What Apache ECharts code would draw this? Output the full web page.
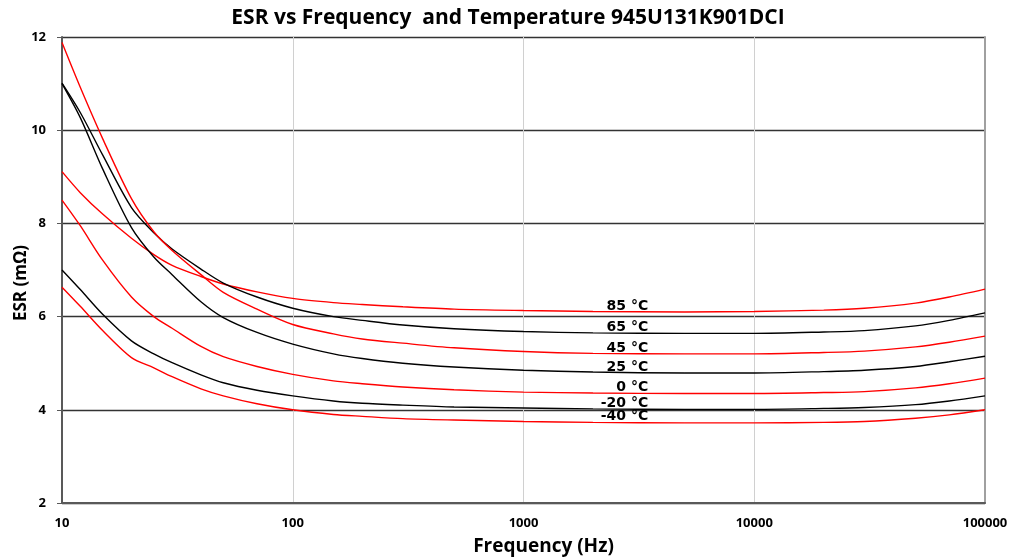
<!DOCTYPE html>
<html>
<head>
<meta charset="utf-8">
<script src="https://cdn.jsdelivr.net/npm/echarts@6/dist/echarts.min.js"></script>
<style>
  html, body { margin: 0; padding: 0; background: #fff; }
  #chart { width: 1016px; height: 559px; }
</style>
</head>
<body>
<div id="chart"></div>
<script>
// frequencies (Hz) the curves were read at
var freq = [10, 12, 15, 20, 25, 30, 40, 50, 70, 100, 150, 200, 300, 500, 1000, 2000, 5000, 10000, 20000, 30000, 50000, 70000, 100000];

// ESR (mOhm) per temperature
var esr85  = [9.11, 8.66, 8.20, 7.68, 7.33, 7.10, 6.86, 6.70, 6.53, 6.39, 6.30, 6.26, 6.21, 6.16, 6.13, 6.11, 6.10, 6.11, 6.14, 6.18, 6.29, 6.42, 6.59];
var esr65  = [11.01, 10.38, 9.47, 8.34, 7.80, 7.45, 7.02, 6.72, 6.42, 6.18, 6.00, 5.92, 5.82, 5.74, 5.68, 5.65, 5.64, 5.64, 5.67, 5.70, 5.80, 5.92, 6.08];
var esr45  = [11.88, 10.92, 9.82, 8.53, 7.82, 7.42, 6.90, 6.52, 6.16, 5.83, 5.63, 5.52, 5.43, 5.33, 5.25, 5.21, 5.20, 5.20, 5.23, 5.26, 5.35, 5.45, 5.58];
var esr25  = [11.00, 10.27, 9.17, 7.91, 7.28, 6.90, 6.32, 5.98, 5.66, 5.41, 5.20, 5.10, 5.00, 4.92, 4.85, 4.81, 4.79, 4.79, 4.82, 4.85, 4.93, 5.03, 5.15];
var esr0   = [8.50, 7.95, 7.21, 6.42, 6.00, 5.75, 5.36, 5.14, 4.93, 4.76, 4.62, 4.56, 4.49, 4.43, 4.38, 4.36, 4.35, 4.35, 4.37, 4.39, 4.47, 4.56, 4.68];
var esrM20 = [7.00, 6.58, 6.05, 5.48, 5.20, 5.01, 4.75, 4.58, 4.42, 4.30, 4.19, 4.14, 4.10, 4.06, 4.04, 4.02, 4.01, 4.01, 4.03, 4.05, 4.11, 4.19, 4.30];
var esrM40 = [6.63, 6.22, 5.70, 5.12, 4.90, 4.71, 4.45, 4.30, 4.13, 4.00, 3.90, 3.86, 3.81, 3.78, 3.75, 3.73, 3.72, 3.72, 3.73, 3.75, 3.82, 3.89, 4.00];

var tempLabels = ['85 °C', '65 °C', '45 °C', '25 °C', '0 °C', '-20 °C', '-40 °C'];
var curveColors = ['#ff0000', '#000000', '#ff0000', '#000000', '#ff0000', '#000000', '#ff0000'];
var curves = [esr85, esr65, esr45, esr25, esr0, esrM20, esrM40];

var labelFreq = 3470;
var labelIdx = freq.indexOf(5000);

var series = curves.map(function (vals, i) {
  return {
    name: tempLabels[i],
    type: 'line',
    data: freq.map(function (f, j) { return [f, vals[j]]; }),
    smooth: 0.3,
    showSymbol: false,
    lineStyle: { color: curveColors[i], width: 1.4 },
    itemStyle: { color: curveColors[i] },
    z: 3,
    markPoint: {
      symbol: 'circle',
      symbolSize: 0,
      silent: true,
      data: [{ coord: [labelFreq, vals[labelIdx]] }],
      label: {
        show: true,
        formatter: tempLabels[i],
        position: 'top',
        distance: -1,
        align: 'right',
        color: '#000',
        fontFamily: 'DejaVu Sans',
        fontWeight: 'bold',
        fontSize: 14
      }
    }
  };
});

var chart = echarts.init(document.getElementById('chart'));
chart.setOption({
  backgroundColor: '#fff',
  animation: false,
  title: {
    text: 'ESR vs Frequency  and Temperature 945U131K901DCI',
    left: 'center',
    top: 3,
    textStyle: { fontFamily: 'Open Sans', fontWeight: 'bold', fontSize: 21, color: '#000' }
  },
  grid: { left: 62, right: 31, top: 37, bottom: 56, outerBoundsMode: 'none', containLabel: false },
  xAxis: {
    type: 'log',
    logBase: 10,
    min: 10,
    max: 100000,
    name: 'Frequency (Hz)',
    nameLocation: 'middle',
    nameGap: 34,
    nameMoveOverlap: false,
    nameTextStyle: { fontFamily: 'Open Sans', fontWeight: 'bold', fontSize: 19, color: '#000', padding: [0, 0, 0, 40] },
    axisLine: { lineStyle: { color: '#595959', width: 2 } },
    axisTick: { show: false },
    axisLabel: {
      margin: 14, fontFamily: 'Open Sans', fontWeight: 'bold', fontSize: 13, color: '#000',
      formatter: function (v) { return String(Math.round(v)); }
    },
    splitLine: { show: true, lineStyle: { color: '#d0d0d0', width: 1 } }
  },
  yAxis: [{
    type: 'value',
    min: 2,
    max: 12,
    interval: 2,
    name: 'ESR (mΩ)',
    nameLocation: 'middle',
    nameGap: 32,
    nameMoveOverlap: false,
    nameTextStyle: { fontFamily: 'Open Sans', fontWeight: 'bold', fontSize: 17, color: '#000', padding: [0, 26, 0, 0] },
    axisLine: { show: true, lineStyle: { color: '#595959', width: 2 } },
    axisTick: { show: true, length: 5, lineStyle: { color: '#595959' } },
    axisLabel: { margin: 16, fontFamily: 'Open Sans', fontWeight: 'bold', fontSize: 13, color: '#000' },
    splitLine: { show: true, lineStyle: { color: '#333333', width: 1.3 } }
  }, {
    type: 'value',
    position: 'right',
    min: 2,
    max: 12,
    interval: 2,
    axisLine: { show: true, lineStyle: { color: '#a0a0a0', width: 2 } },
    axisTick: { show: false },
    axisLabel: { show: false },
    splitLine: { show: false }
  }],
  series: series
});
</script>
</body>
</html>
